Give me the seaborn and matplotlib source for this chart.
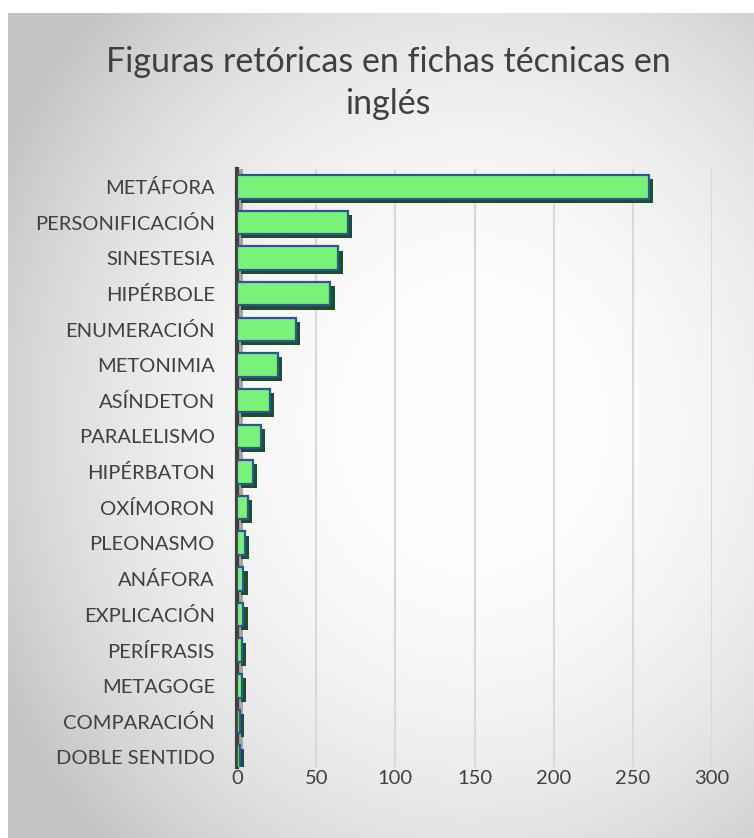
import numpy as np
import pandas as pd
import matplotlib
matplotlib.use("Agg")
import matplotlib.pyplot as plt
import matplotlib.patheffects as pe
import seaborn as sns

categories = ["METÁFORA", "PERSONIFICACIÓN", "SINESTESIA", "HIPÉRBOLE", "ENUMERACIÓN",
              "METONIMIA", "ASÍNDETON", "PARALELISMO", "HIPÉRBATON", "OXÍMORON",
              "PLEONASMO", "ANÁFORA", "EXPLICACIÓN", "PERÍFRASIS", "METAGOGE",
              "COMPARACIÓN", "DOBLE SENTIDO"]
values = [260, 70, 64, 59, 37, 26, 21, 15, 10, 7, 5, 4, 4, 3, 3, 2, 2]
x_ticks = [0, 50, 100, 150, 200, 250, 300]
title = "Figuras retóricas en fichas técnicas en\ninglés"

df = pd.DataFrame({"figura": categories, "n": values})

sns.set_theme(style="white")
plt.rcParams["font.family"] = ["Lato", "DejaVu Sans"]

W, H = 754, 838
fig = plt.figure(figsize=(W / 100, H / 100), dpi=100)
fig.patch.set_facecolor("white")

# background radial gradient panel
bg = fig.add_axes([8 / W, 0, 1 - 8 / W, 1 - 13 / H], zorder=-5)
yy, xx = np.mgrid[0:400, 0:400]
cx, cy = 0.62 * 400, 0.50 * 400
r = np.sqrt(((xx - cx) / 400) ** 2 + ((yy - cy) / 400) ** 2)
shade = np.clip(1.0 - 0.24 * (r / 0.72) ** 2.2, 0.77, 1.0)
img = np.dstack([shade, shade, shade])
bg.imshow(img, aspect="auto", extent=[0, 1, 0, 1], origin="lower", interpolation="bilinear")
bg.set_axis_off()

ax = fig.add_axes([237 / W, 1 - 767 / H, 475 / W, 598 / H])
ax.set_facecolor("none")
sns.barplot(data=df, y="figura", x="n", orient="h", ax=ax, color="#78F278",
            saturation=1, width=0.66, edgecolor="#2F5597", linewidth=1.6, zorder=3)
for p in ax.patches:
    p.set_path_effects([pe.SimplePatchShadow(offset=(3, -3), shadow_rgbFace="#1F4E2A", alpha=1.0),
                        pe.Normal()])

ax.set_xlim(0, 300)
ax.set_ylim(len(categories) - 1 + 0.28, -0.5)
ax.set_xticks(x_ticks)
ax.set_xticklabels([str(t) for t in x_ticks])
ax.set_xlabel("")
ax.set_ylabel("")
ax.grid(axis="x", color="#d9d9d9", linewidth=1.5, zorder=0)
ax.set_axisbelow(True)
for s in ["top", "right", "bottom"]:
    ax.spines[s].set_visible(False)
ax.spines["left"].set_color("#404040")
ax.spines["left"].set_linewidth(3)
ax.axvspan(0, 4, color="#a6a6a6", zorder=1, lw=0)
ax.tick_params(axis="y", length=0, pad=16, labelsize=14.5, labelcolor="#404040")
ax.tick_params(axis="x", length=0, pad=2, labelsize=14.5, labelcolor="#404040")

fig.text(388 / W, 1 - 46 / H, title, ha="center", va="top", fontsize=24.5,
         color="#404040", linespacing=1.38)

fig.savefig("out.png", dpi=100)
